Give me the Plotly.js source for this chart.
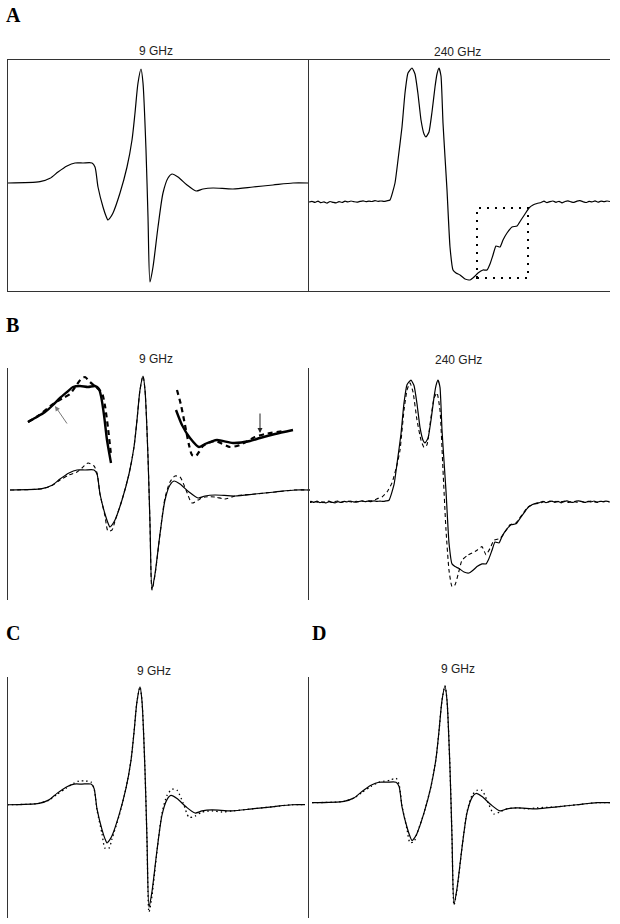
<!DOCTYPE html>
<html><head><meta charset="utf-8">
<script src="https://cdn.plot.ly/plotly-3.0.1.min.js"></script>
<style>html,body{margin:0;padding:0;background:#fff}#chart{width:620px;height:924px}</style>
</head><body><div id="chart"></div>
<script>
// ---- 9 GHz experimental spectrum (field in arbitrary units, derivative signal) ----
const x9 = [0,32,42,50,59,67,75,84,87,90,95,98,100,102,105,112,119,124,127,130,133,135,138,140,142,145,150,155,160,164,170,179,188,195,205,225,245,265,285,300];
const exp9 = [0,1.3,4.7,11,17,20,20,20,16,-4,-24,-33,-37,-35,-30,-10,16,43,70,100,114,100,33,-34,-99,-84,-44,-10,5,9,6,-2,-8,-6,-5,-6,-4,-2,0,0];
// ---- 9 GHz simulations ----
const xFit9 = [0,32,42,50,59,67,72,78,84,87,90,95,98,102,105,112,119,124,127,130,133,135,138,140,142,145,150,155,160,165,170,176,182,188,195,205,215,225,245,265,285,300];
const fitB9 = [0,1.3,4.5,10,15,18,22,27,24,17,-4,-26,-41,-40,-31,-10,16,43,70,100,114,100,33,-34,-100,-85,-44,-8,8,14,13,0,-13,-10,-7,-7,-9,-6,-4,-2,0,0];
const fitC9 = [0,1.3,4.5,10,16,21,23,23,22,16,-5,-28,-42,-42,-33,-11,16,43,70,100,114,100,33,-35,-104,-88,-45,-8,9,15,14,2,-12,-11,-7,-6,-7,-6,-4,-2,0,0];
const fitD9 = [0,1.3,4.5,10,16,20,21,22,24,18,-3,-26,-39,-38,-30,-10,16,43,70,100,114,100,33,-34,-100,-85,-44,-9,7,12,12,0,-11,-9,-6,-5,-6,-5,-4,-2,0,0];
// ---- B insets (expanded wings) ----
const inLx = [18,25,35,43,50,57,63,70,78,85,89,91,94,97,101];
const inLy = [68,72,78,85,92,98,103,104,103,104,101,94,75,50,27];
const inLfx = [18,28,38,46,53,60,66,71,75,80,86,92,95,98,101];
const inLfy = [68,74,82,88,92,96,104,111,113,108,103,97,84,62,35];
const inRx = [166,172,180,189,195,207,223,240,250,265,283];
const inRy = [80,65,52,43,46,50,47,49,52,56,60];
const inRfx = [167,171,175,179,182,186,189,193,205,220,230,245,255,273];
const inRfy = [100,85,65,45,35,34,38,44,49,43,45,53,56,59];
const arrowL = [45,84,58,65];   // head x, head y, tail x, tail y
const arrowR = [250,57,250,78];
// ---- 240 GHz experimental spectrum ----
const x240 = [0,3,6,9,12,15,18,21,24,27,30,33,36,39,42,45,48,51,54,57,60,63,66,69,72,75,78,
  81,86,89,93,96,99,103,106,109,112,115,117,120,123,126,128,130,132,134,136,138,141,144,147,151,156,161,165,169,174,178,181,184,187,191,194,198,203,208,212,216,220,224,228,
  232,235,238,241,244,247,250,253,256,259,262,265,268,271,274,277,280,283,286,289,292,295,298,301];
const exp240 = [0,0.6,-0.4,0.9,-0.7,0.2,-1.1,0.5,-0.3,-0.9,0.4,-0.5,0.8,0.1,1.0,0.3,-0.2,0.6,1.2,0.4,0.9,0.5,1.3,0.7,1.0,0.6,1.2,
  2,19,42,75,109,129,134,128,108,82,68,65,70,90,115,128,134,126,79,45,12,-45,-68,-71,-73,-77,-78,-75,-71,-68,-68,-62,-53,-44,-45,-38,-31,-25,-24,-18,-12,-6,-3,-1.5,
  -0.5,0.8,-0.6,0.4,1.0,-0.3,0.7,-0.9,0.5,1.2,0.2,-0.4,0.9,1.3,0.3,-0.5,0.6,0.1,1.1,-0.2,0.8,0.4,1.0,0.5];
// ---- 240 GHz simulation ----
const xFit240 = [0,3,6,9,12,15,18,21,24,27,30,33,36,39,42,45,48,51,54,57,60,
  66,70,74,79,84,89,92,96,99,102,105,109,113,116,119,122,126,129,132,135,138,141,144,147,150,154,159,164,169,174,178,182,186,192,197,202,208,214,220,227,
  233,236,239,242,245,248,251,254,257,260,263,266,269,272,275,278,281,284,287,290,293,296,299,302];
const fit240 = [0,-0.5,0.7,-0.3,0.9,-0.8,0.4,1,-0.5,0.6,1.1,-0.2,0.5,1.2,0.3,-0.4,0.8,0.2,1.0,0.6,1.2,
  2,4,5.5,11,21,41,57,101,123,131,121,90,68,60,63,85,114,120,101,35,-31,-75,-93,-91,-80,-64,-59,-56,-53,-49,-58,-51,-42,-40,-33,-25,-23,-14,-5.5,-2,
  -1,0.6,-0.7,1,-0.4,0.8,-0.2,0.5,1.1,-0.6,0.3,0.9,-0.3,1.2,0.2,-0.5,0.7,1.0,0.1,-0.4,0.9,0.3,0.6,0];
const boxRegion = [168,219,-76,-6]; // dotted box in A (240 GHz): x0,x1,y0,y1

const W = 620, H = 924;
const px = v => v / W, py = v => 1 - v / H;
const frame = '#333';
function ax(domainPx, range, isY) {
  return {
    domain: isY ? [py(domainPx[1]), py(domainPx[0])] : [px(domainPx[0]), px(domainPx[1])],
    range: range, showline: true, mirror: true, linecolor: frame, linewidth: 1,
    showticklabels: false, ticks: '', showgrid: false, zeroline: false, fixedrange: true
  };
}
function line(x, y, xa, ya, opts) {
  return Object.assign({x: x, y: y, xaxis: xa, yaxis: ya, type: 'scatter', mode: 'lines',
    hoverinfo: 'skip', showlegend: false,
    line: {color: '#000', width: 1.2, shape: 'spline', smoothing: 0.7}}, opts || {});
}
const noisy = {color: '#000', width: 1.2, shape: 'spline', smoothing: 0.45};
const traces = [
  line(x9, exp9, 'x', 'y'),
  line(x240, exp240, 'x2', 'y2', {line: noisy}),
  line(xFit9, fitB9, 'x3', 'y3', {line: {color: '#000', width: 1.1, dash: '4px,3px', shape: 'spline', smoothing: 0.7}}),
  line(x9, exp9, 'x3', 'y3'),
  line(inLfx, inLfy, 'x3', 'y3', {line: {color: '#000', width: 2.2, dash: '5px,4px', shape: 'spline', smoothing: 0.6}}),
  line(inLx, inLy, 'x3', 'y3', {line: {color: '#000', width: 2.4, shape: 'spline', smoothing: 0.6}}),
  line(inRfx, inRfy, 'x3', 'y3', {line: {color: '#000', width: 2.2, dash: '5px,4px', shape: 'spline', smoothing: 0.6}}),
  line(inRx, inRy, 'x3', 'y3', {line: {color: '#000', width: 2.4, shape: 'spline', smoothing: 0.6}}),
  line(xFit240, fit240, 'x4', 'y4', {line: {color: '#000', width: 1.1, dash: '4px,3px', shape: 'spline', smoothing: 0.45}}),
  line(x240, exp240, 'x4', 'y4', {line: noisy}),
  line(xFit9, fitC9, 'x5', 'y5', {line: {color: '#000', width: 1.3, dash: '1.5px,3px', shape: 'spline', smoothing: 0.7}}),
  line(x9, exp9, 'x5', 'y5'),
  line(xFit9, fitD9, 'x6', 'y6', {line: {color: '#000', width: 1.3, dash: '1.5px,3px', shape: 'spline', smoothing: 0.7}}),
  line(x9, exp9, 'x6', 'y6')
];
const titleFont = {family: 'Liberation Sans, Arial, sans-serif', size: 12, color: '#222'};
const letterFont = {family: 'Liberation Serif, Times New Roman, serif', size: 20, color: '#000'};
function ttl(text, cx, cy) { return {text: text, x: px(cx), y: py(cy), xref: 'paper', yref: 'paper', showarrow: false, font: titleFont, xanchor: 'center', yanchor: 'middle'}; }
function letter(text, lx, ly) { return {text: '<b>' + text + '</b>', x: px(lx), y: py(ly), xref: 'paper', yref: 'paper', showarrow: false, font: letterFont, xanchor: 'left', yanchor: 'middle'}; }
const layout = {
  width: W, height: H, margin: {l: 0, r: 0, t: 0, b: 0},
  paper_bgcolor: '#fff', plot_bgcolor: '#fff', showlegend: false,
  xaxis: ax([8, 308], [0, 300]),        yaxis: ax([60, 291], [-108, 123], true),
  xaxis2: ax([309, 610], [0, 301]),     yaxis2: ax([61, 290], [-88, 141], true),
  xaxis3: ax([10, 310], [0, 300]),      yaxis3: ax([368, 600], [-110, 122], true),
  xaxis4: ax([310, 610], [2, 302]),     yaxis4: ax([368, 599], [-106.6, 147.3], true),
  xaxis5: ax([7, 305], [0, 298]),       yaxis5: ax([679, 918], [-109.6, 121.7], true),
  xaxis6: ax([312, 610], [0, 298]),     yaxis6: ax([677, 916], [-110.7, 122.8], true),
  shapes: [{type: 'rect', xref: 'x2', yref: 'y2', x0: boxRegion[0], x1: boxRegion[1], y0: boxRegion[2], y1: boxRegion[3],
            line: {color: '#000', width: 2, dash: '2px,6px'}}],
  annotations: [
    letter('A', 4, 15), letter('B', 4, 325), letter('C', 4, 633), letter('D', 310, 633),
    ttl('9 GHz', 156, 51), ttl('240 GHz', 457, 52), ttl('9 GHz', 156, 359), ttl('240 GHz', 458, 360),
    ttl('9 GHz', 154, 671), ttl('9 GHz', 458, 669),
    {x: arrowL[0], y: arrowL[1], ax: arrowL[2], ay: arrowL[3], xref: 'x3', yref: 'y3', axref: 'x3', ayref: 'y3',
     text: '', showarrow: true, arrowhead: 2, arrowsize: 1, arrowwidth: 1, arrowcolor: '#777'},
    {x: arrowR[0], y: arrowR[1], ax: arrowR[2], ay: arrowR[3], xref: 'x3', yref: 'y3', axref: 'x3', ayref: 'y3',
     text: '', showarrow: true, arrowhead: 2, arrowsize: 1, arrowwidth: 1, arrowcolor: '#222'}
  ]
};
Plotly.newPlot('chart', traces, layout, {staticPlot: true, displayModeBar: false});
</script></body></html>
